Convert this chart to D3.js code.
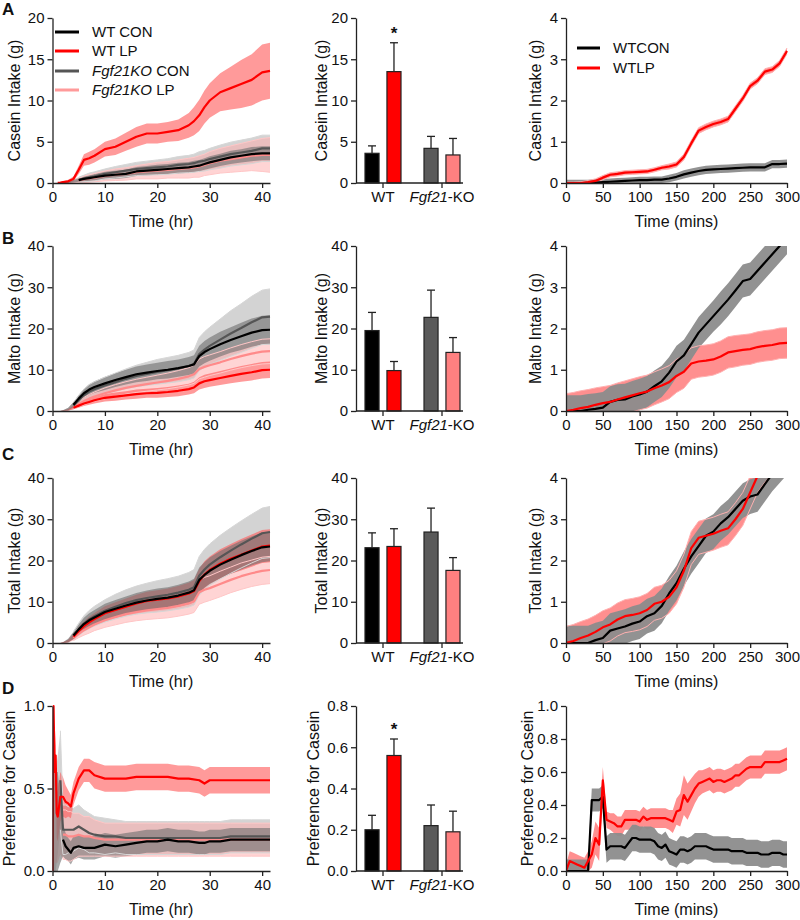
<!DOCTYPE html>
<html><head><meta charset="utf-8">
<script src="https://cdn.jsdelivr.net/npm/d3@7"></script>
<style>body{margin:0;background:#fff} svg{display:block}</style>
</head><body><svg id="c" width="800" height="920"></svg>
<script>
// ---------------- DATA ----------------
const groupNames = ["WT CON", "WT LP", "Fgf21KO CON", "Fgf21KO LP"];
const rightNames = ["WTCON", "WTLP"];
const barGroups = ["WT", "Fgf21-KO"];
const barConds = ["CON", "LP"];
const yTitles = ["Casein Intake (g)", "Malto Intake (g)", "Total Intake (g)", "Preference for Casein"];
const panelLetters = ["A", "B", "C", "D"];

// time axes
const hrT = [0,0.5,1,1.5,2,3,4,5,6,7,8,10,12,14,16,18,20,22,24,26,27,28,29,30,32,34,36,38,40,41.5];
const hrTD = [0,0.2,0.4,0.6,0.8,1,1.5,2,2.5,3,3.5,4,5,6,7,8,10,12,14,16,18,20,22,24,26,28,29,30,32,34,36,38,40,41.5];
const minT = [0,10,20,30,40,50,60,70,80,90,100,110,120,130,140,150,160,170,180,190,200,210,220,230,240,250,260,270,280,290,300];
const minTD = [0,5,10,15,20,25,30,35,40,45,50,55,60,65,70,75,80,85,90,95,100,105,110,115,120,125,130,135,140,145,150,155,160,165,170,175,180,185,190,195,200,205,210,215,220,225,230,235,240,245,250,255,260,265,270,275,280,285,290,295,300];

// Row A – casein (hr)
const caseinWTCON = [0,0,0,0,0.05,0.1,0.2,0.35,0.5,0.6,0.7,0.9,1.0,1.1,1.4,1.5,1.6,1.7,1.8,1.9,2.0,2.1,2.3,2.5,2.8,3.1,3.3,3.5,3.6,3.6];
const caseinWTCONsem = [0,0,0,0,0.05,0.1,0.15,0.2,0.3,0.35,0.4,0.45,0.5,0.5,0.55,0.55,0.6,0.6,0.65,0.65,0.7,0.7,0.7,0.75,0.75,0.8,0.8,0.85,0.85,0.85];
const caseinWTLP = [0,0,0.02,0.05,0.1,0.2,0.5,1.6,2.8,3.0,3.3,4.1,4.4,5.0,5.6,6.0,6.0,6.2,6.4,7.0,7.5,8.2,9.2,10.0,11.0,11.5,12.0,12.5,13.4,13.6];
const caseinWTLPsem = [0,0,0.02,0.05,0.1,0.2,0.3,0.5,0.7,0.8,0.8,0.9,1.0,1.1,1.2,1.2,1.2,1.2,1.3,1.5,1.7,1.9,2.0,2.1,2.3,2.6,2.9,3.1,3.4,3.4];
const caseinKOCON = [0,0,0,0,0.05,0.1,0.25,0.4,0.55,0.7,0.8,1.1,1.3,1.5,1.7,1.8,1.9,2.0,2.2,2.3,2.4,2.6,2.7,2.9,3.2,3.5,3.7,3.9,4.2,4.2];
const caseinKOCONsem = [0,0,0,0,0.05,0.1,0.2,0.3,0.4,0.5,0.55,0.6,0.7,0.75,0.8,0.85,0.9,0.95,1.0,1.05,1.1,1.2,1.25,1.3,1.4,1.45,1.5,1.55,1.6,1.6];
const caseinKOLP = [0,0,0,0,0.05,0.1,0.2,0.3,0.45,0.55,0.65,0.85,1.0,1.1,1.3,1.4,1.5,1.6,1.7,1.8,1.9,2.0,2.2,2.4,2.7,2.9,3.1,3.3,3.4,3.4];
const caseinKOLPsem = [0,0,0,0,0.05,0.1,0.2,0.3,0.4,0.45,0.5,0.6,0.7,0.75,0.8,0.9,1.0,1.0,1.1,1.2,1.2,1.3,1.3,1.4,1.5,1.6,1.7,1.8,2.0,2.1];

// Row B – malto (hr)
const maltoWTCON = [0,0,0,0,0.1,0.5,1.5,3.0,4.3,5.2,5.8,6.7,7.5,8.2,8.9,9.3,9.7,10.0,10.4,10.9,11.3,13.3,14.3,15.0,16.2,17.2,18.1,19.0,19.6,19.7];
const maltoWTCONsem = [0,0,0,0,0.1,0.3,0.6,0.9,1.1,1.3,1.4,1.6,1.7,1.8,1.9,2.0,2.0,2.1,2.1,2.2,2.2,2.5,2.7,2.8,3.0,3.1,3.3,3.4,3.5,3.5];
const maltoWTLP = [0,0,0,0,0.05,0.3,0.8,1.3,1.8,2.2,2.6,3.2,3.5,3.8,4.1,4.3,4.4,4.6,4.9,5.3,5.7,6.7,7.2,7.5,8.0,8.5,9.0,9.4,9.9,10.0];
const maltoWTLPsem = [0,0,0,0,0.05,0.2,0.4,0.5,0.6,0.7,0.8,0.9,1.0,1.0,1.1,1.1,1.2,1.2,1.3,1.3,1.4,1.5,1.6,1.6,1.7,1.8,1.9,2.0,2.0,2.0];
const maltoKOCON = [0,0,0,0,0.1,0.4,1.3,2.6,3.8,4.7,5.3,6.2,7.0,7.8,8.5,9.0,9.5,9.9,10.3,10.9,11.4,13.8,14.9,15.8,17.3,18.8,20.1,21.5,22.7,22.9];
const maltoKOCONsem = [0,0,0,0,0.1,0.4,0.8,1.2,1.5,1.7,1.8,2.0,2.2,2.4,2.6,2.8,3.0,3.1,3.2,3.3,3.4,4.0,4.3,4.5,5.0,5.5,5.9,6.3,6.6,6.7];
const maltoKOLP = [0,0,0,0,0.05,0.3,1.0,1.7,2.4,3.0,3.5,4.3,5.0,5.6,6.1,6.5,6.9,7.3,7.8,8.4,8.9,10.2,10.7,11.1,11.8,12.6,13.3,13.9,14.4,14.5];
const maltoKOLPsem = [0,0,0,0,0.05,0.2,0.5,0.7,0.9,1.0,1.1,1.3,1.4,1.5,1.6,1.7,1.8,1.9,2.0,2.1,2.2,2.4,2.5,2.5,2.6,2.7,2.8,2.9,3.0,3.0];

// Row C – total (hr)
const totalWTCON = [0,0,0,0,0.1,0.6,1.8,3.3,4.6,5.5,6.2,7.5,8.3,9.1,9.8,10.3,10.7,11.0,11.5,12.2,12.8,15.3,16.5,17.5,19.0,20.2,21.3,22.3,23.2,23.4];
const totalWTCONsem = [0,0,0,0,0.1,0.4,0.8,1.2,1.5,1.7,1.8,2.0,2.1,2.2,2.3,2.4,2.5,2.5,2.6,2.7,2.8,3.0,3.1,3.2,3.3,3.4,3.5,3.5,3.6,3.6];
const totalWTLP = [0,0,0,0,0.1,0.5,1.5,2.9,4.1,5.0,5.8,7.2,8.0,8.8,9.6,10.2,10.5,10.8,11.3,12.0,12.6,15.0,16.6,17.7,19.2,20.4,21.4,22.4,23.4,23.6];
const totalWTLPsem = [0,0,0,0,0.1,0.3,0.6,0.9,1.2,1.4,1.5,1.7,1.9,2.0,2.1,2.2,2.3,2.4,2.5,2.6,2.7,3.0,3.2,3.3,3.5,3.6,3.8,3.9,4.0,4.0];
const totalKOCON = [0,0,0,0,0.1,0.6,1.8,3.3,4.7,5.7,6.5,7.8,8.8,9.7,10.4,10.9,11.3,11.7,12.2,12.9,13.5,16.3,17.8,19.0,20.8,22.4,23.9,25.3,26.6,26.9];
const totalKOCONsem = [0,0,0,0,0.1,0.5,1.0,1.5,1.9,2.2,2.4,2.7,3.0,3.2,3.4,3.6,3.8,3.9,4.0,4.2,4.3,4.7,4.9,5.0,5.3,5.5,5.7,5.9,6.1,6.2];
const totalKOLP = [0,0,0,0,0.1,0.4,1.2,2.2,3.1,3.8,4.5,5.5,6.3,7.0,7.5,7.9,8.2,8.5,9.0,9.6,10.1,12.3,12.9,13.3,14.3,15.3,16.2,16.9,17.5,17.7];
const totalKOLPsem = [0,0,0,0,0.1,0.3,0.6,0.9,1.2,1.4,1.5,1.7,1.9,2.0,2.1,2.2,2.3,2.4,2.5,2.6,2.7,2.9,3.0,3.0,3.1,3.1,3.2,3.2,3.3,3.3];

// Row D – preference (hr)
const prefWTCON = [0,0.2,0.3,0.3,0.3,0.3,0.25,0.19,0.15,0.13,0.11,0.14,0.15,0.14,0.14,0.14,0.16,0.15,0.16,0.17,0.18,0.18,0.19,0.18,0.18,0.17,0.17,0.18,0.18,0.19,0.19,0.19,0.19,0.19];
const prefWTCONsem = [0,0.2,0.3,0.3,0.3,0.3,0.2,0.1,0.08,0.07,0.07,0.07,0.07,0.07,0.07,0.07,0.07,0.07,0.07,0.07,0.07,0.07,0.07,0.07,0.07,0.07,0.07,0.07,0.07,0.07,0.07,0.07,0.07,0.07];
const prefWTLP = [0,1.0,0.6,0.7,0.35,0.33,0.45,0.45,0.42,0.41,0.39,0.47,0.56,0.61,0.61,0.58,0.56,0.56,0.56,0.57,0.57,0.57,0.57,0.56,0.56,0.55,0.53,0.55,0.55,0.55,0.55,0.55,0.55,0.55];
const prefWTLPsem = [0,0,0.1,0.15,0.15,0.15,0.15,0.12,0.1,0.08,0.07,0.07,0.07,0.07,0.07,0.08,0.08,0.08,0.08,0.08,0.08,0.08,0.08,0.08,0.08,0.08,0.08,0.08,0.08,0.08,0.08,0.08,0.08,0.08];
const prefKOCON = [0,0.3,0.3,0.3,0.35,0.4,0.55,0.25,0.25,0.25,0.25,0.25,0.27,0.25,0.23,0.22,0.21,0.21,0.2,0.2,0.2,0.2,0.2,0.2,0.2,0.2,0.2,0.2,0.2,0.21,0.21,0.21,0.21,0.21];
const prefKOCONsem = [0,0.3,0.3,0.3,0.3,0.3,0.3,0.15,0.15,0.14,0.14,0.13,0.13,0.12,0.12,0.11,0.11,0.1,0.1,0.1,0.1,0.1,0.1,0.1,0.1,0.1,0.1,0.1,0.1,0.1,0.1,0.1,0.1,0.1];
const prefKOLP = [0,0.2,0.3,0.3,0.3,0.3,0.3,0.22,0.22,0.21,0.21,0.21,0.22,0.21,0.21,0.2,0.19,0.19,0.19,0.19,0.19,0.19,0.19,0.19,0.19,0.19,0.19,0.19,0.19,0.19,0.19,0.19,0.19,0.19];
const prefKOLPsem = [0,0.2,0.25,0.25,0.25,0.25,0.2,0.15,0.15,0.15,0.15,0.14,0.13,0.12,0.12,0.11,0.1,0.1,0.1,0.1,0.1,0.1,0.1,0.1,0.1,0.1,0.1,0.1,0.1,0.1,0.1,0.1,0.1,0.1];

// line start times (hr) per group, per row
const lineStartA = [5, 1, 5, 5];
const lineStartB = [3.5, 4, 3.5, 3.5];
const lineStartC = [3.5, 3.5, 3.5, 3.5];
const lineStartD = [2, 0, 1.5, 2];

// Right column (mins), WT only
const caseinMinWTCON = [0,0,0,0,0.01,0.02,0.03,0.04,0.05,0.06,0.07,0.07,0.08,0.08,0.11,0.15,0.21,0.25,0.29,0.32,0.33,0.34,0.35,0.36,0.37,0.38,0.38,0.38,0.46,0.46,0.47];
const caseinMinWTCONsem = [0.08,0.08,0.08,0.08,0.08,0.08,0.08,0.08,0.08,0.08,0.08,0.08,0.08,0.08,0.09,0.09,0.1,0.1,0.1,0.1,0.1,0.1,0.1,0.1,0.1,0.1,0.1,0.1,0.1,0.1,0.1];
const caseinMinWTLP = [0,0,0,0.02,0.05,0.13,0.2,0.22,0.25,0.26,0.27,0.28,0.32,0.37,0.4,0.45,0.63,0.96,1.27,1.36,1.43,1.48,1.55,1.8,2.05,2.35,2.48,2.7,2.75,2.9,3.2];
const caseinMinWTLPsem = [0.02,0.02,0.03,0.04,0.05,0.05,0.05,0.05,0.05,0.05,0.05,0.05,0.05,0.05,0.06,0.06,0.07,0.07,0.07,0.07,0.07,0.07,0.07,0.07,0.07,0.07,0.07,0.07,0.07,0.07,0.07];
const maltoMinWTCON = [0,0,0,0.03,0.05,0.08,0.22,0.27,0.28,0.35,0.4,0.47,0.6,0.72,0.93,1.2,1.35,1.62,1.9,2.1,2.3,2.5,2.7,2.92,3.15,3.2,3.4,3.6,3.8,4.0,4.2];
const maltoMinWTCONsem = [0.38,0.38,0.38,0.38,0.38,0.38,0.38,0.38,0.38,0.38,0.38,0.38,0.38,0.38,0.38,0.38,0.38,0.38,0.38,0.38,0.38,0.4,0.4,0.4,0.4,0.4,0.4,0.4,0.4,0.4,0.4];
const maltoMinWTLP = [0,0.03,0.07,0.1,0.15,0.19,0.22,0.28,0.33,0.38,0.43,0.47,0.55,0.62,0.7,0.85,0.95,1.15,1.2,1.22,1.25,1.32,1.42,1.45,1.48,1.5,1.55,1.58,1.6,1.64,1.65];
const maltoMinWTLPsem = [0.42,0.42,0.42,0.42,0.41,0.4,0.4,0.4,0.4,0.4,0.4,0.4,0.4,0.4,0.4,0.4,0.4,0.38,0.38,0.38,0.38,0.38,0.38,0.38,0.37,0.37,0.37,0.37,0.37,0.37,0.37];
const totalMinWTCON = [0,0,0,0,0.07,0.12,0.3,0.35,0.4,0.47,0.52,0.65,0.72,0.9,1.2,1.45,1.8,2.1,2.35,2.6,2.7,2.9,3.05,3.25,3.45,3.55,3.6,3.85,4.1,4.3,4.5];
const totalMinWTCONsem = [0.42,0.42,0.42,0.42,0.42,0.42,0.42,0.42,0.42,0.42,0.42,0.42,0.42,0.42,0.42,0.42,0.42,0.42,0.42,0.42,0.42,0.42,0.42,0.42,0.42,0.42,0.42,0.42,0.42,0.42,0.42];
const totalMinWTLP = [0,0.05,0.12,0.18,0.27,0.38,0.45,0.57,0.65,0.68,0.72,0.8,0.95,1.0,1.12,1.35,1.75,2.3,2.55,2.6,2.65,2.72,2.78,3.0,3.25,3.65,4.05,4.3,4.5,4.7,4.9];
const totalMinWTLPsem = [0.4,0.4,0.4,0.4,0.4,0.4,0.4,0.4,0.4,0.4,0.4,0.4,0.4,0.4,0.4,0.4,0.4,0.4,0.4,0.4,0.4,0.4,0.4,0.4,0.4,0.4,0.4,0.4,0.4,0.4,0.4];
const prefMinWTCON = [0,0,0,0,0,0,0,0.43,0.43,0.43,0.45,0.13,0.15,0.15,0.15,0.15,0.14,0.17,0.2,0.2,0.19,0.19,0.19,0.19,0.18,0.15,0.14,0.16,0.12,0.11,0.1,0.13,0.13,0.12,0.13,0.15,0.15,0.15,0.15,0.14,0.13,0.13,0.13,0.13,0.13,0.12,0.12,0.12,0.12,0.11,0.11,0.11,0.11,0.1,0.1,0.1,0.11,0.11,0.11,0.1,0.1];
const prefMinWTCONsem = [0.07,0.07,0.07,0.07,0.07,0.07,0.07,0.07,0.07,0.07,0.07,0.08,0.08,0.08,0.08,0.08,0.08,0.08,0.08,0.08,0.08,0.08,0.08,0.08,0.08,0.08,0.08,0.08,0.08,0.08,0.08,0.08,0.08,0.08,0.08,0.08,0.08,0.08,0.08,0.08,0.08,0.08,0.08,0.08,0.08,0.08,0.08,0.08,0.08,0.08,0.08,0.08,0.08,0.08,0.08,0.08,0.08,0.08,0.08,0.08,0.08];
const prefMinWTLP = [0,0.06,0.05,0.04,0.03,0.02,0.06,0.1,0.2,0.16,0.55,0.31,0.3,0.29,0.27,0.27,0.31,0.31,0.31,0.31,0.3,0.33,0.31,0.32,0.32,0.32,0.32,0.32,0.31,0.3,0.36,0.37,0.46,0.42,0.46,0.5,0.53,0.54,0.55,0.56,0.54,0.55,0.55,0.54,0.55,0.56,0.58,0.58,0.6,0.62,0.63,0.63,0.63,0.63,0.66,0.66,0.66,0.66,0.66,0.67,0.68];
const prefMinWTLPsem = [0.04,0.06,0.06,0.06,0.06,0.06,0.06,0.08,0.1,0.1,0.08,0.05,0.05,0.06,0.06,0.06,0.06,0.06,0.06,0.06,0.06,0.06,0.06,0.06,0.06,0.06,0.06,0.06,0.06,0.07,0.08,0.1,0.12,0.11,0.1,0.09,0.08,0.07,0.07,0.07,0.07,0.07,0.07,0.07,0.07,0.07,0.07,0.07,0.07,0.07,0.07,0.07,0.07,0.07,0.07,0.07,0.07,0.07,0.07,0.07,0.07];

// Bars: order WT CON, WT LP, KO CON, KO LP
const caseinBar = [3.6, 13.5, 4.2, 3.4];
const caseinBarErr = [0.9, 3.5, 1.45, 2.0];
const maltoBar = [19.5, 9.8, 22.7, 14.2];
const maltoBarErr = [4.4, 2.2, 6.6, 3.6];
const totalBar = [23.1, 23.4, 26.9, 17.6];
const totalBarErr = [3.6, 4.3, 5.8, 3.1];
const prefBar = [0.2, 0.56, 0.22, 0.19];
const prefBarErr = [0.07, 0.08, 0.10, 0.10];

// ---------------- LAYOUT / STYLE ----------------
const FONT = '"Liberation Sans", Arial, Helvetica, sans-serif';
const rowTop = [18, 246, 478, 706];
const H = 165;
const LX = [52.5, 270], MX = [356, 463], RX = [566, 787];
const titleXL = [14, 14, 14, 9], titleXM = [321, 321, 321, 313], titleXR = [535, 535, 535, 527];
const lineCol = ["#000000", "#ff0000", "#555555", "#ff8a8a"];
const bandFill = ["#6e6e6e", "#ff5c5c", "#a8a8a8", "#ffaaaa"];
const bandOp = [0.6, 0.62, 0.5, 0.5];
const barFill = ["#000000", "#ff0000", "#5a5a5a", "#ff8080"];

const svg = d3.select("#c").style("font-family", FONT);
const defs = svg.append("defs");
let clipN = 0;
function makeClip(x0, x1, y0, y1) {
  const id = "clip" + (clipN++);
  defs.append("clipPath").attr("id", id).append("rect")
    .attr("x", x0).attr("y", y0).attr("width", x1 - x0).attr("height", y1 - y0);
  return id;
}
function styleAxis(a) {
  a.select(".domain").attr("stroke", "#222").attr("stroke-width", 1.3);
  a.selectAll(".tick line").attr("stroke", "#222").attr("stroke-width", 1.3);
  a.selectAll(".tick text").attr("font-size", 15).attr("fill", "#111").attr("font-family", FONT);
}
function yAxis(y, x0, ticks, fmt) {
  const a = svg.append("g").attr("transform", `translate(${x0},0)`)
    .call(d3.axisLeft(y).tickValues(ticks).tickFormat(fmt).tickSize(5).tickSizeOuter(0).tickPadding(3));
  styleAxis(a);
}
function xAxis(x, yb, ticks) {
  const a = svg.append("g").attr("transform", `translate(0,${yb})`)
    .call(d3.axisBottom(x).tickValues(ticks).tickSize(5).tickSizeOuter(0).tickPadding(3));
  styleAxis(a);
}
function yTitle(txt, cx, cy) {
  svg.append("text").attr("transform", `translate(${cx},${cy}) rotate(-90)`)
    .attr("text-anchor", "middle").attr("dy", "0.35em").attr("font-size", 16).attr("fill", "#111").text(txt);
}
function xTitle(txt, cx, yb) {
  svg.append("text").attr("x", cx).attr("y", yb + 44).attr("text-anchor", "middle")
    .attr("font-size", 16).attr("fill", "#111").text(txt);
}
const fmt1 = d3.format(".1f"), fmt0 = d3.format("d");

// ---------- left time-course panels ----------
function leftPanel(r, t, means, sems, starts, ymax, ticks, fmt) {
  const top = rowTop[r], bot = top + H;
  const x = d3.scaleLinear().domain([0, 41.5]).range(LX);
  const y = d3.scaleLinear().domain([0, ymax]).range([bot, top]);
  const cid = makeClip(LX[0], LX[1] + 1, top - 2, bot);
  const g = svg.append("g").attr("clip-path", `url(#${cid})`);
  const order = [2, 3, 1, 0];
  const pts = means.map((m, k) => t.map((tt, i) => ({ t: tt, m: m[i], s: sems[k][i] })));
  const area = d3.area().x(d => x(d.t)).y0(d => y(d.m - d.s)).y1(d => y(d.m + d.s));
  order.forEach(k => g.append("path").attr("d", area(pts[k])).attr("fill", bandFill[k]).attr("fill-opacity", bandOp[k]));
  [3, 2].forEach(k => {
    const edgeCol = k === 3 ? "#ffc6c6" : "#d6d6d6";
    const up = d3.line().x(d => x(d.t)).y(d => y(d.m + d.s)).defined(d => d.t >= starts[k]);
    const lo = d3.line().x(d => x(d.t)).y(d => y(d.m - d.s)).defined(d => d.t >= starts[k]);
    g.append("path").attr("d", up(pts[k])).attr("fill", "none").attr("stroke", edgeCol).attr("stroke-width", 1);
    g.append("path").attr("d", lo(pts[k])).attr("fill", "none").attr("stroke", edgeCol).attr("stroke-width", 1);
  });
  [3, 2, 1, 0].forEach(k => {
    const ln = d3.line().x(d => x(d.t)).y(d => y(d.m)).defined(d => d.t >= starts[k]);
    g.append("path").attr("d", ln(pts[k])).attr("fill", "none").attr("stroke", lineCol[k])
      .attr("stroke-width", 2.2).attr("stroke-linejoin", "round");
  });
  yAxis(y, LX[0], ticks, fmt);
  xAxis(x, bot, [0, 10, 20, 30, 40]);
  yTitle(yTitles[r], titleXL[r], (top + bot) / 2);
  xTitle("Time (hr)", (LX[0] + LX[1]) / 2, bot);
}

// ---------- right time-course panels ----------
function rightPanel(r, t, means, sems, ymax, ticks, fmt) {
  const top = rowTop[r], bot = top + H;
  const x = d3.scaleLinear().domain([0, 300]).range(RX);
  const y = d3.scaleLinear().domain([0, ymax]).range([bot, top]);
  const cid = makeClip(RX[0], RX[1] + 3, top, bot);
  const g = svg.append("g").attr("clip-path", `url(#${cid})`);
  const pts = means.map((m, k) => t.map((tt, i) => ({ t: tt, m: m[i], s: sems[k][i] })));
  const area = d3.area().x(d => x(d.t)).y0(d => y(d.m - d.s)).y1(d => y(d.m + d.s));
  g.append("path").attr("d", area(pts[1])).attr("fill", "#ff8f8f");
  g.append("path").attr("d", area(pts[0])).attr("fill", "#8c8c8c").attr("fill-opacity", 0.95);
  if (r < 3) {
    const up = d3.line().x(d => x(d.t)).y(d => y(d.m + d.s));
    const lo = d3.line().x(d => x(d.t)).y(d => y(d.m - d.s));
    g.append("path").attr("d", up(pts[1])).attr("fill", "none").attr("stroke", "#ffb0b0").attr("stroke-width", 1);
    g.append("path").attr("d", lo(pts[1])).attr("fill", "none").attr("stroke", "#ffb0b0").attr("stroke-width", 1);
  }
  [0, 1].forEach(k => {
    const ln = d3.line().x(d => x(d.t)).y(d => y(d.m));
    g.append("path").attr("d", ln(pts[k])).attr("fill", "none").attr("stroke", lineCol[k])
      .attr("stroke-width", 2.2).attr("stroke-linejoin", "round");
  });
  yAxis(y, RX[0], ticks, fmt);
  xAxis(x, bot, [0, 50, 100, 150, 200, 250, 300]);
  yTitle(yTitles[r], titleXR[r], (top + bot) / 2);
  xTitle("Time (mins)", (RX[0] + RX[1]) / 2, bot);
}

// ---------- bar panels ----------
function barPanel(r, vals, errs, ymax, ticks, fmt, star) {
  const top = rowTop[r], bot = top + H;
  const y = d3.scaleLinear().domain([0, ymax]).range([bot, top]);
  const xg = d3.scaleBand().domain(barGroups).range([353.5, 471.5]);
  const xc = d3.scaleBand().domain(barConds).range([-18, 18]).paddingInner(0.36);
  const data = [];
  barGroups.forEach((gName, gi) => barConds.forEach((c, ci) => {
    const k = gi * 2 + ci;
    data.push({ g: gName, c, v: vals[k], e: errs[k], k });
  }));
  const bx = d => xg(d.g) + xg.bandwidth() / 2 + xc(d.c);
  const g = svg.append("g");
  data.forEach(d => {
    const cx = bx(d) + xc.bandwidth() / 2;
    g.append("line").attr("x1", cx).attr("x2", cx).attr("y1", y(d.v)).attr("y2", y(d.v + d.e))
      .attr("stroke", "#222").attr("stroke-width", 1.3);
    g.append("line").attr("x1", cx - 4).attr("x2", cx + 4).attr("y1", y(d.v + d.e)).attr("y2", y(d.v + d.e))
      .attr("stroke", "#222").attr("stroke-width", 1.3);
    g.append("rect").attr("x", bx(d)).attr("y", y(d.v)).attr("width", xc.bandwidth()).attr("height", bot - y(d.v))
      .attr("fill", barFill[d.k]).attr("stroke", "#222").attr("stroke-width", 1.2);
    if (star && d.k === 1) {
      g.append("text").attr("x", cx).attr("y", y(d.v + d.e) - 4).attr("text-anchor", "middle")
        .attr("font-size", 17).attr("font-weight", "bold").attr("fill", "#111").text("*");
    }
  });
  yAxis(y, MX[0], ticks, fmt);
  const a = svg.append("g").attr("transform", `translate(0,${bot})`)
    .call(d3.axisBottom(xg).tickSize(5).tickSizeOuter(0).tickPadding(3));
  a.select(".domain").remove();
  a.append("line").attr("x1", MX[0]).attr("x2", MX[1]).attr("stroke", "#222").attr("stroke-width", 1.3);
  styleAxis(a);
  a.selectAll(".tick text").each(function (d) {
    const s = d3.select(this); s.text(null);
    if (d === "WT") s.append("tspan").text("WT");
    else { s.append("tspan").attr("font-style", "italic").text("Fgf21"); s.append("tspan").text("-KO"); }
  });
  yTitle(yTitles[r], titleXM[r], (top + bot) / 2);
}

// ---------------- DRAW ----------------
leftPanel(0, hrT, [caseinWTCON, caseinWTLP, caseinKOCON, caseinKOLP],
  [caseinWTCONsem, caseinWTLPsem, caseinKOCONsem, caseinKOLPsem], lineStartA, 20, [0, 5, 10, 15, 20], fmt0);
leftPanel(1, hrT, [maltoWTCON, maltoWTLP, maltoKOCON, maltoKOLP],
  [maltoWTCONsem, maltoWTLPsem, maltoKOCONsem, maltoKOLPsem], lineStartB, 40, [0, 10, 20, 30, 40], fmt0);
leftPanel(2, hrT, [totalWTCON, totalWTLP, totalKOCON, totalKOLP],
  [totalWTCONsem, totalWTLPsem, totalKOCONsem, totalKOLPsem], lineStartC, 40, [0, 10, 20, 30, 40], fmt0);
leftPanel(3, hrTD, [prefWTCON, prefWTLP, prefKOCON, prefKOLP],
  [prefWTCONsem, prefWTLPsem, prefKOCONsem, prefKOLPsem], lineStartD, 1, [0, 0.5, 1], fmt1);

barPanel(0, caseinBar, caseinBarErr, 20, [0, 5, 10, 15, 20], fmt0, true);
barPanel(1, maltoBar, maltoBarErr, 40, [0, 10, 20, 30, 40], fmt0, false);
barPanel(2, totalBar, totalBarErr, 40, [0, 10, 20, 30, 40], fmt0, false);
barPanel(3, prefBar, prefBarErr, 0.8, [0, 0.2, 0.4, 0.6, 0.8], fmt1, true);

rightPanel(0, minT, [caseinMinWTCON, caseinMinWTLP], [caseinMinWTCONsem, caseinMinWTLPsem], 4, [0, 1, 2, 3, 4], fmt0);
rightPanel(1, minT, [maltoMinWTCON, maltoMinWTLP], [maltoMinWTCONsem, maltoMinWTLPsem], 4, [0, 1, 2, 3, 4], fmt0);
rightPanel(2, minT, [totalMinWTCON, totalMinWTLP], [totalMinWTCONsem, totalMinWTLPsem], 4, [0, 1, 2, 3, 4], fmt0);
rightPanel(3, minTD, [prefMinWTCON, prefMinWTLP], [prefMinWTCONsem, prefMinWTLPsem], 1, [0, 0.2, 0.4, 0.6, 0.8, 1], fmt1);

// panel letters
const letterY = [15, 244, 460, 694];
panelLetters.forEach((L, i) => svg.append("text").attr("x", 2).attr("y", letterY[i])
  .attr("font-size", 17).attr("font-weight", "bold").attr("fill", "#111").text(L));

// legend left (row A)
const legY = [32, 51, 71, 90];
const legLine = ["#000000", "#ff0000", "#555555", "#ff9a9a"];
groupNames.forEach((n, i) => {
  svg.append("line").attr("x1", 55).attr("x2", 79).attr("y1", legY[i]).attr("y2", legY[i])
    .attr("stroke", legLine[i]).attr("stroke-width", 3);
  const t = svg.append("text").attr("x", 92).attr("y", legY[i]).attr("dy", "0.35em")
    .attr("font-size", 15).attr("fill", "#111");
  if (n.startsWith("Fgf21KO")) {
    t.append("tspan").attr("font-style", "italic").text("Fgf21KO");
    t.append("tspan").text(n.slice(7));
  } else t.text(n);
});
// legend right (row A)
const legRY = [48, 68];
rightNames.forEach((n, i) => {
  svg.append("line").attr("x1", 577).attr("x2", 600).attr("y1", legRY[i]).attr("y2", legRY[i])
    .attr("stroke", lineCol[i]).attr("stroke-width", 3);
  svg.append("text").attr("x", 613).attr("y", legRY[i]).attr("dy", "0.35em")
    .attr("font-size", 15).attr("fill", "#111").text(n);
});
</script></body></html>
